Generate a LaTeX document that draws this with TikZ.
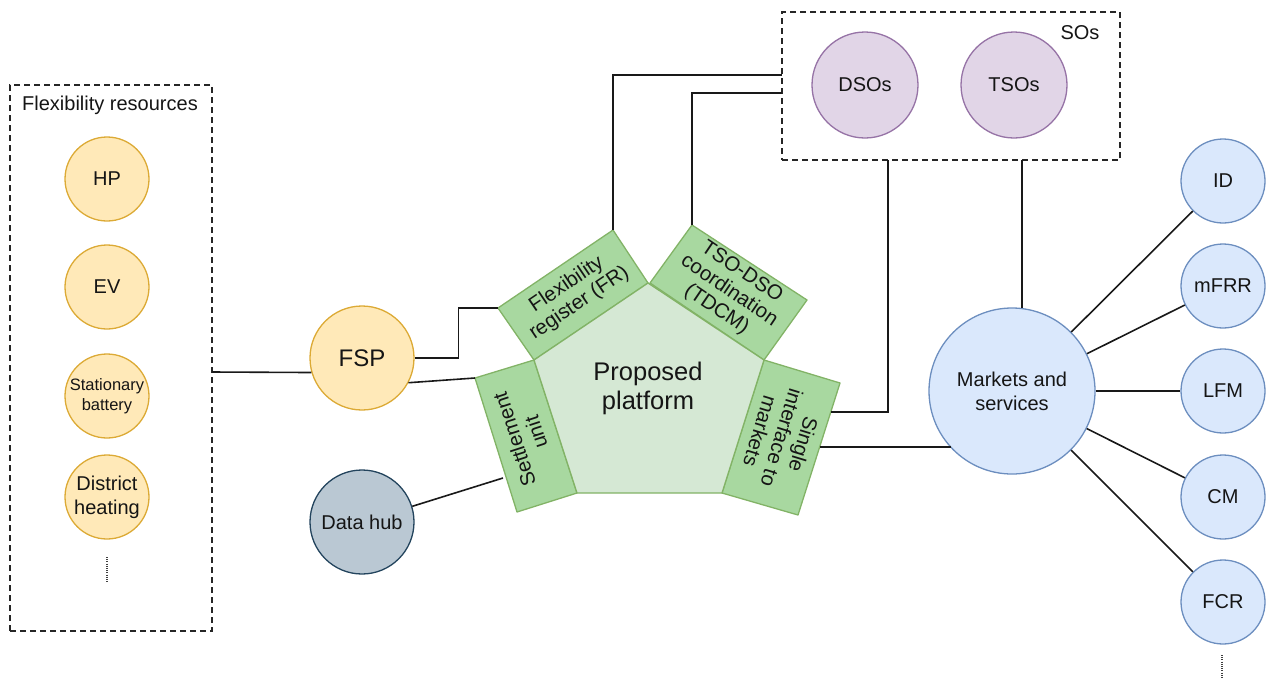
\documentclass[tikz,border=0pt]{standalone}
\usepackage{fontspec}
\setmainfont{Liberation Sans}
\definecolor{yfill}{HTML}{FFE9B8}
\definecolor{ystroke}{HTML}{DCAA35}
\definecolor{pfill}{HTML}{E1D5E7}
\definecolor{pstroke}{HTML}{9673A6}
\definecolor{bfill}{HTML}{DAE8FC}
\definecolor{bstroke}{HTML}{6C8EBF}
\definecolor{hfill}{HTML}{BAC8D3}
\definecolor{hstroke}{HTML}{23445D}
\definecolor{gfill}{HTML}{D5E8D4}
\definecolor{gdark}{HTML}{A8D8A0}
\definecolor{gstroke}{HTML}{82B366}
\definecolor{txt}{HTML}{151515}
\begin{document}
\begin{tikzpicture}[x=1pt,y=-1pt,
  every node/.style={text=txt, font=\fontsize{20}{24}\selectfont, align=center},
  res/.style={circle, draw=ystroke, fill=yfill, line width=1.3pt, minimum size=84pt, inner sep=0pt},
  sonode/.style={circle, draw=pstroke, fill=pfill, line width=1.3pt, minimum size=106pt, inner sep=0pt},
  mknode/.style={circle, draw=bstroke, fill=bfill, line width=1.3pt, minimum size=84pt, inner sep=0pt},
  hubnode/.style={circle, draw=hstroke, fill=hfill, line width=1.3pt, minimum size=104pt, inner sep=0pt},
  dbox/.style={draw=black!85, line width=1.4pt, dash pattern=on 6pt off 4pt, inner sep=0pt},
  conn/.style={draw=black!90, line width=1.6pt},
  dotline/.style={draw=black!75, line width=1.5pt, dash pattern=on 1pt off 1.2pt},
  pent/.style={draw=gstroke, fill=gfill, line width=1.3pt, line join=round},
  rectg/.style={draw=gstroke, fill=gdark, line width=1.3pt, line join=round},
  rtext/.style={font=\fontsize{20.5}{22.5}\selectfont, inner sep=0pt}
]
\useasboundingbox (0,0) rectangle (1266,678);

% ---- Flexibility resources box
\node[dbox, minimum width=202pt, minimum height=546pt] (flex) at (111,358) {};
\node (flexlbl) at (110,105) {Flexibility resources};
\node[res] (hp) at (107,179) {HP};
\node[res] (ev) at (107,287) {EV};
\node[res, font=\fontsize{16.5}{20}\selectfont] (sb) at (107,396) {Stationary\\battery};
\node[res] (dh) at (107,497) {District\\heating};
\coordinate (d1a) at (107,557);
\coordinate (d1b) at (107,582);
\draw[dotline] (d1a) -- (d1b);

% ---- SOs box
\node[dbox, minimum width=338pt, minimum height=148pt] (sos) at (951,86) {};
\node (soslbl) at (1080,33) {SOs};
\node[sonode] (dso) at (865,85) {DSOs};
\node[sonode] (tso) at (1014,85) {TSOs};

% ---- FSP and data hub
\node[res, minimum size=104pt, font=\fontsize{24}{28}\selectfont] (fsp) at (362,358) {FSP};
\node[hubnode] (hub) at (362,522) {Data hub};

% ---- Markets
\node[mknode, minimum size=166pt] (mk) at (1012,391) {Markets and\\services};
\node[mknode] (id) at (1223,181) {ID};
\node[mknode] (mfrr) at (1223,286) {mFRR};
\node[mknode] (lfm) at (1223,391) {LFM};
\node[mknode] (cm) at (1223,497) {CM};
\node[mknode] (fcr) at (1223,602) {FCR};
\coordinate (d2a) at (1222,655);
\coordinate (d2b) at (1222,678);
\draw[dotline] (d2a) -- (d2b);

% ---- Pentagon platform
\coordinate (pT) at (648,283);
\coordinate (pUR) at (764,360);
\coordinate (pLR) at (722,493);
\coordinate (pLL) at (577,493);
\coordinate (pUL) at (534,360);
% FR rect
\coordinate (frA) at (613,230);
\coordinate (frB) at (498,308);
% TDCM rect
\coordinate (tdA) at (692,225);
\coordinate (tdB) at (807,300);
% Single interface rect
\coordinate (siA) at (840,383);
\coordinate (siB) at (798,515);
% Settlement rect
\coordinate (stA) at (517,512);
\coordinate (stB) at (475,378);

\draw[rectg] (pUL) -- (pT) -- (frA) -- (frB) -- cycle;
\draw[rectg] (650,283) -- (pUR) -- (tdB) -- (tdA) -- cycle;
\draw[rectg] (pUR) -- (siA) -- (siB) -- (pLR) -- cycle;
\draw[rectg] (pUL) -- (stB) -- (stA) -- (pLL) -- cycle;
\draw[pent] (pT) -- (pUR) -- (pLR) -- (pLL) -- (pUL) -- cycle;

\node[font=\fontsize{25.5}{29}\selectfont] (plat) at (648,388) {Proposed\\platform};
\node[rtext, rotate=34] (frl) at (573,294) {Flexibility\\register (FR)};
\node[rtext, rotate=-34] (tdl) at (729,291) {TSO-DSO\\coordination\\(TDCM)};
\node[rtext, rotate=-107] (sil) at (782,438) {Single\\interface to\\markets};
\node[rtext, rotate=108] (stl) at (525,436) {Settlement\\unit};

% ---- Connectors
\coordinate (lb) at (212,372);
\draw[conn] (lb) -- (fsp.196);
\draw[conn] (fsp.east) -- ++(44,0) |- (frB);
\draw[conn] (fsp.-28) -- (stB);
\coordinate (stM) at (503,478);
\draw[conn] (hub) -- (stM);
\coordinate (s1) at (782,75);
\coordinate (s2) at (782,93);
\draw[conn] (frA) |- (s1);
\draw[conn] (tdA) |- (s2);
\coordinate (siM1) at (831,412);
\coordinate (siM2) at (820,447);
\coordinate (sb1) at (888,160);
\coordinate (sb2) at (1022,160);
\draw[conn] (siM1) -| (sb1);
\draw[conn] (siM2) -- (siM2 -| mk.223);
\draw[conn] (sb2) -- (sb2 |- mk.83);
\draw[conn] (mk) -- (id);
\draw[conn] (mk) -- (mfrr);
\draw[conn] (mk) -- (lfm);
\draw[conn] (mk) -- (cm);
\draw[conn] (mk) -- (fcr);
\end{tikzpicture}
\end{document}
